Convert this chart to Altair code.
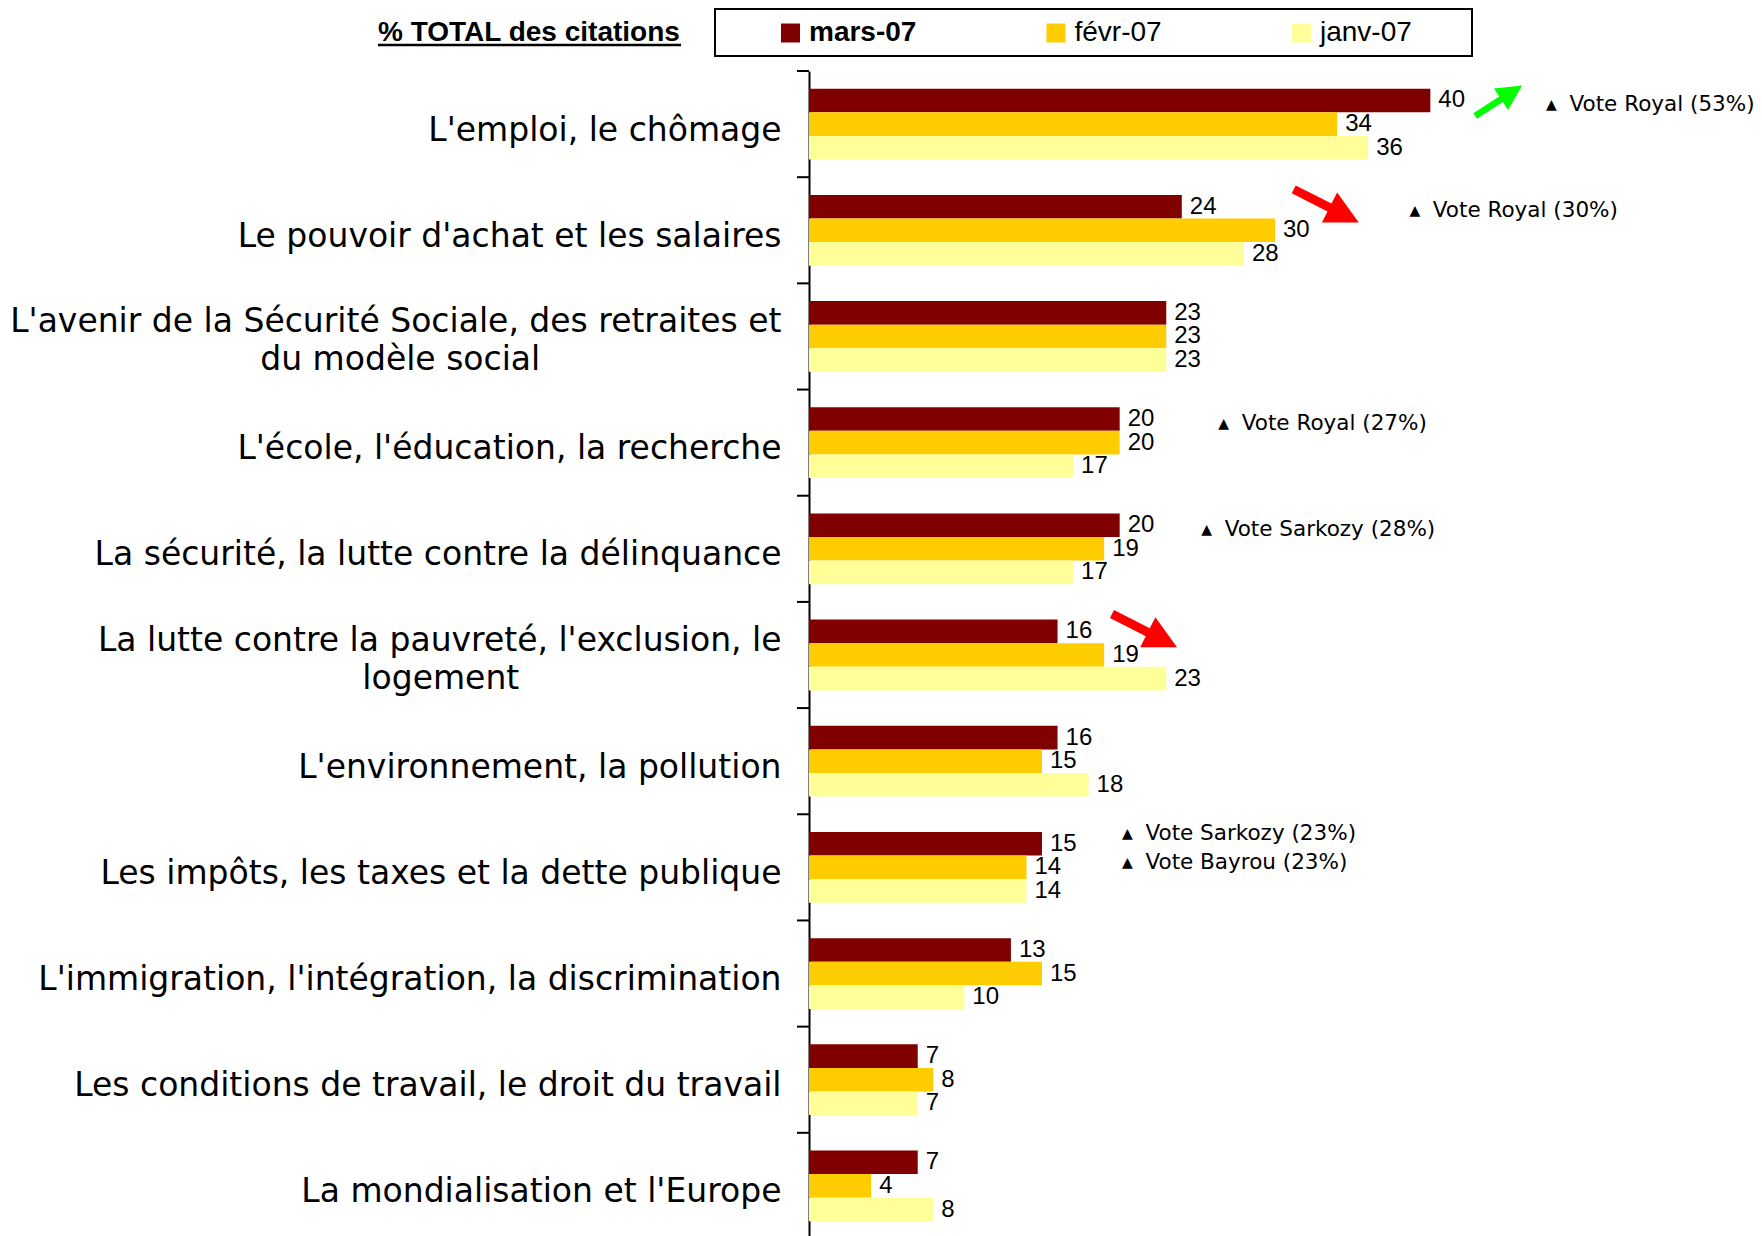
import json
import altair as alt
import pandas as pd

# ---------------- data ----------------
categories = [
    "L'emploi, le chômage",
    "Le pouvoir d'achat et les salaires",
    "L'avenir de la Sécurité Sociale, des retraites et du modèle social",
    "L'école, l'éducation, la recherche",
    "La sécurité, la lutte contre la délinquance",
    "La lutte contre la pauvreté, l'exclusion, le logement",
    "L'environnement, la pollution",
    "Les impôts, les taxes et la dette publique",
    "L'immigration, l'intégration, la discrimination",
    "Les conditions de travail, le droit du travail",
    "La mondialisation et l'Europe",
]
series = ["mars-07", "févr-07", "janv-07"]
mars_07 = [40, 24, 23, 20, 20, 16, 16, 15, 13, 7, 7]
fevr_07 = [34, 30, 23, 20, 19, 19, 15, 14, 15, 8, 4]
janv_07 = [36, 28, 23, 17, 17, 23, 18, 14, 10, 7, 8]
series_colors = ["#800000", "#FFCC00", "#FFFF99"]

title_text = "% TOTAL des citations"

# annotations (category, x position in value units, text lines)
ann_cats = [categories[0], categories[1], categories[3], categories[4], categories[7]]
ann_x = [47.8, 39.0, 26.7, 25.6, 20.5]
ann_text = [
    "Vote Royal (53%)",
    "Vote Royal (30%)",
    "Vote Royal (27%)",
    "Vote Sarkozy (28%)",
    "Vote Sarkozy (23%)|Vote Bayrou (23%)",
]
arrow_up_cats = [categories[0]]
arrow_up_x = [44.4]
arrow_down_cats = [categories[1], categories[5]]
arrow_down_x = [33.3, 21.6]

# two-line axis labels
label_lines = {
    categories[2]: ["L'avenir de la Sécurité Sociale, des retraites et", "du modèle social"],
    categories[5]: ["La lutte contre la pauvreté, l'exclusion, le", "logement"],
}
NBSP = "\u00a0"
ZWSP = "\u200b"
center_pad = {categories[2]: 23, categories[5]: 25}

# ---------------- tables ----------------
rows = []
for i, c in enumerate(categories):
    for s, vals in zip(series, [mars_07, fevr_07, janv_07]):
        rows.append({"cat": c, "series": s, "value": vals[i]})
df = pd.DataFrame(rows)
cat_df = pd.DataFrame({"cat": categories})
ann_df = pd.DataFrame({"cat": ann_cats, "x": ann_x, "text": ann_text})
ann_df["n"] = [len(t.split("|")) for t in ann_text]
ann_df["tri"] = ["|".join(["▲"] * n) for n in ann_df["n"]]
up_df = pd.DataFrame({"cat": arrow_up_cats, "x": arrow_up_x})
down_df = pd.DataFrame({"cat": arrow_down_cats, "x": arrow_down_x})
one_df = pd.DataFrame({"t": [title_text]})


def js(s):
    return json.dumps(s, ensure_ascii=False)


label_expr = "datum.label"
for cat, lines in label_lines.items():
    padded = [lines[0], lines[1] + NBSP * center_pad[cat] + ZWSP]
    label_expr = f"datum.label === {js(cat)} ? [{', '.join(js(l) for l in padded)}] : ({label_expr})"

multi_test = f"indexof({js(list(label_lines.keys()))}, datum.value) >= 0"

# ---------------- scales / axes ----------------
yscale = alt.Scale(domain=categories, paddingInner=0, paddingOuter=0)
yaxis = alt.Axis(
    title=None, labelExpr=label_expr, labelFont="DejaVu Sans", labelFontSize=33,
    labelColor="black", labelPadding=28, labelLineHeight=38, labelLimit=2000,
    ticks=False, domainColor="black", domainWidth=2, labelAlign="right",
    labelBaseline="middle", grid=False,
    labelOffset={"condition": {"test": multi_test, "value": -14}, "value": 6.5},
)
xscale = alt.Scale(domain=[0, 60], nice=False)


def Y(**kw):
    return alt.Y("cat:N", scale=yscale, axis=yaxis, sort=categories, **kw)


X = alt.X("value:Q", scale=xscale, axis=None)
XA = alt.X("x:Q", scale=xscale, axis=None)
yoff = alt.YOffset("series:N", sort=series, scale=alt.Scale(paddingInner=0, paddingOuter=0.75))

legend = alt.Legend(
    orient="none", legendX=-32.5, legendY=-52, direction="horizontal", title=None,
    symbolType="square", symbolSize=361, symbolStrokeWidth=0, symbolOpacity=1,
    labelFont="Liberation Sans", labelFontSize=28, labelColor="black", labelOffset=4.5,
    columnPadding=125.5, padding=0,
    labelFontWeight={"expr": "datum.label === 'mars-07' ? 'bold' : 'normal'"},
)

bars = alt.Chart(df).mark_bar().encode(
    y=Y(), x=X, yOffset=yoff,
    color=alt.Color("series:N", scale=alt.Scale(domain=series, range=series_colors), legend=legend),
)
values = alt.Chart(df).mark_text(
    align="left", baseline="middle", dx=8, font="Liberation Sans", fontSize=24, color="black"
).encode(y=Y(), x=X, yOffset=yoff, text=alt.Text("value:Q"))

ticks = alt.Chart(cat_df).mark_rule(color="black", strokeWidth=2).encode(
    y=Y(bandPosition=0), x=alt.value(-12), x2=alt.value(0)
)

LINE_H = 29
ann_layers = []
for n in sorted(set(ann_df["n"])):
    sub = ann_df[ann_df["n"] == n]
    shift = -(n - 1) * LINE_H / 2
    ann_layers.append(
        alt.Chart(sub).transform_calculate(lines="split(datum.tri, '|')").mark_text(
            align="center", baseline="middle", dy=shift, font="DejaVu Sans", fontSize=14,
            lineHeight=LINE_H, color="black",
        ).encode(y=Y(bandPosition=0.32), x=XA, text=alt.Text("lines:N"))
    )
    ann_layers.append(
        alt.Chart(sub).transform_calculate(lines="split(datum.text, '|')").mark_text(
            align="left", baseline="middle", dx=18, dy=shift, font="DejaVu Sans", fontSize=21.5,
            lineHeight=LINE_H, color="black",
        ).encode(y=Y(bandPosition=0.32), x=XA, text=alt.Text("lines:N"))
    )

ARROW = "M-0.12,1 L0.12,1 L0.12,-0.1 L0.46,-0.1 L0,-1 L-0.46,-0.1 L-0.12,-0.1 Z"
arr_up = alt.Chart(up_df).mark_point(
    shape=ARROW, filled=True, size=3136, angle=57, color="#00FF00", opacity=1, strokeWidth=0
).encode(y=Y(bandPosition=0.28), x=XA)
arr_down = alt.Chart(down_df).mark_point(
    shape=ARROW, filled=True, size=5329, angle=117, color="#FF0000", opacity=1, strokeWidth=0
).encode(y=Y(bandPosition=0.27), x=XA)

title = alt.Chart(one_df).mark_text(
    align="left", baseline="middle", font="Liberation Sans", fontSize=28, fontWeight="bold", color="black"
).encode(x=alt.value(-431), y=alt.value(-38), text=alt.Text("t:N"))
underline = alt.Chart(one_df).mark_rule(color="black", strokeWidth=2.5).encode(
    x=alt.value(-431), x2=alt.value(-128), y=alt.value(-26)
)
box = alt.Chart(one_df).mark_rect(fillOpacity=0, stroke="black", strokeWidth=2).encode(
    x=alt.value(-94), x2=alt.value(663), y=alt.value(-62), y2=alt.value(-15)
)

chart = alt.layer(
    box, title, underline, ticks, bars, values, arr_up, arr_down, *ann_layers
).properties(
    width=932, height=1168,
    autosize=alt.AutoSizeParams(type="none"),
    padding={"left": 801, "top": 63, "right": 13, "bottom": 0},
).configure_view(strokeWidth=0)

chart.save("out.html", embed_options={"renderer": "svg", "actions": False})
